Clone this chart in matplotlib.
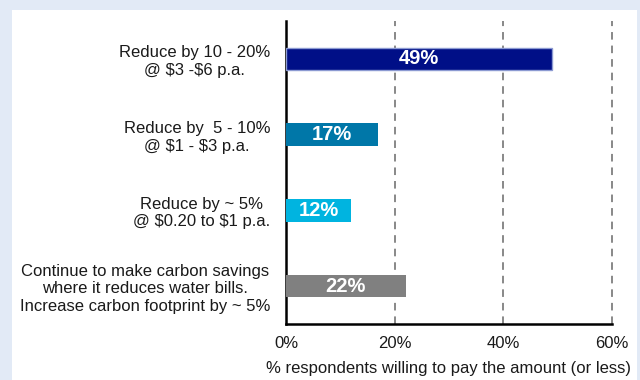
import matplotlib.pyplot as plt
from matplotlib.patches import Rectangle

categories = [
    "Reduce by 10 - 20%\n@ \\$3 -\\$6 p.a.",
    "Reduce by  5 - 10%\n@ \\$1 - \\$3 p.a.",
    "Reduce by ~ 5%\n@ \\$0.20 to \\$1 p.a.",
    "Continue to make carbon savings\nwhere it reduces water bills.\nIncrease carbon footprint by ~ 5%",
]
values = [49, 17, 12, 22]
bar_colors = ["#000F87", "#0077A8", "#00B4E0", "#808080"]
xticks = [0, 20, 40, 60]
xlabel = "% respondents willing to pay the amount (or less)"

plt.rcParams["font.family"] = ["Liberation Sans", "DejaVu Sans"]

fig = plt.figure(figsize=(6.4, 3.8), dpi=100, facecolor="#E2EAF6")
# white panel behind the axes
fig.patches.append(Rectangle((12 / 640, 0), 625 / 640, 370 / 380,
                             transform=fig.transFigure, facecolor="white",
                             edgecolor="none", zorder=-1))

ax = fig.add_axes([286 / 640, 56 / 380, 326 / 640, 303 / 380])
ax.set_facecolor("none")

ypos = list(range(len(values)))
edges = ["#8C9AD2", "none", "none", "none"]
ax.barh(ypos, values, height=0.3, color=bar_colors, edgecolor=edges,
        linewidth=1, zorder=3)
for y, v in zip(ypos, values):
    ax.text(v / 2, y, f"{v}%", ha="center", va="center", color="white",
            fontsize=14.5, fontweight="bold", zorder=4)

ax.set_xlim(0, 60)
ax.set_ylim(3.5, -0.5)
ax.set_xticks(xticks)
ax.set_xticklabels([f"{t}%" for t in xticks], fontsize=12, color="#1a1a1a")
ax.set_yticks(ypos)
ax.set_yticklabels(categories, fontsize=12, color="#1a1a1a",
                   multialignment="center", linespacing=1.2)
ax.tick_params(axis="both", length=0)
ax.tick_params(axis="y", pad=11.5)
ax.tick_params(axis="x", pad=9)
ax.set_xlabel(xlabel, fontsize=12, color="#1a1a1a", labelpad=7)

for t in xticks[1:]:
    ax.axvline(t, color="#7f7f7f", linestyle=(0, (4.2, 3.3)), linewidth=1.3,
               zorder=1, clip_on=False)

for s in ["top", "right"]:
    ax.spines[s].set_visible(False)
ax.spines["left"].set_linewidth(1.8)
ax.spines["bottom"].set_linewidth(1.8)

fig.savefig("out.png", dpi=100, facecolor=fig.get_facecolor())
